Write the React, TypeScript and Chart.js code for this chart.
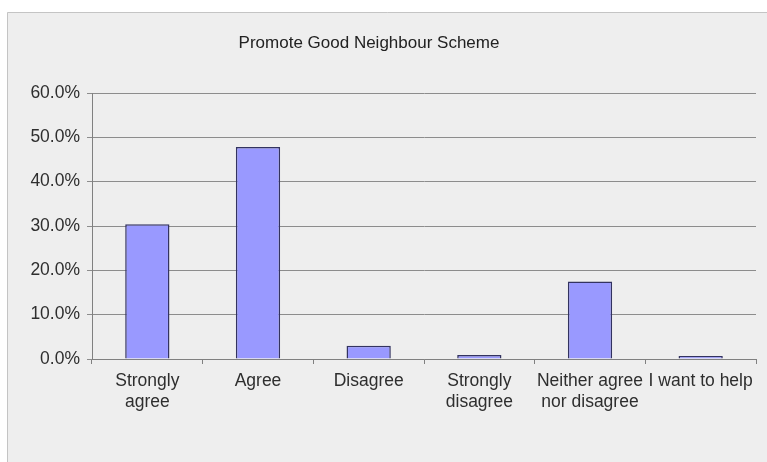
import React, { useEffect, useRef } from "react";
import { Chart, registerables } from "chart.js";

Chart.register(...registerables);

const categories: (string | string[])[] = [
  ["Strongly", "agree"],
  "Agree",
  "Disagree",
  ["Strongly", "disagree"],
  ["Neither agree", "nor disagree"],
  "I want to help",
];
const values: number[] = [30.4, 47.8, 3.0, 0.9, 17.5, 0.7];
const yTicks: number[] = [0, 10, 20, 30, 40, 50, 60];
const titleText = "Promote Good Neighbour Scheme";

const FONT = "Liberation Sans, Arial, sans-serif";

const panelPlugin = {
  id: "panelBg",
  beforeDraw(chart: any) {
    const ctx = chart.ctx;
    ctx.save();
    ctx.fillStyle = "#ffffff";
    ctx.fillRect(0, 0, chart.width, chart.height);
    ctx.fillStyle = "#eeeeee";
    ctx.fillRect(7, 12, chart.width - 7, chart.height - 12);
    ctx.strokeStyle = "#c4c4c4";
    ctx.lineWidth = 1;
    ctx.beginPath();
    ctx.moveTo(7.5, chart.height);
    ctx.lineTo(7.5, 12.5);
    ctx.lineTo(chart.width, 12.5);
    ctx.stroke();
    ctx.restore();
  },
  afterDraw(chart: any) {
    const ctx = chart.ctx;
    ctx.save();
    ctx.fillStyle = "#222222";
    ctx.font = `17px ${FONT}`;
    ctx.textAlign = "center";
    ctx.textBaseline = "middle";
    ctx.fillText(titleText, 369, 43);
    ctx.restore();
  },
};

export default function App() {
  const ref = useRef<HTMLCanvasElement | null>(null);
  useEffect(() => {
    document.body.style.margin = "0";
    if (!ref.current) return;
    const chart = new Chart(ref.current, {
      type: "bar",
      data: {
        labels: categories,
        datasets: [
          {
            data: values,
            backgroundColor: "#9999ff",
            borderColor: "#333360",
            borderWidth: 1.5,
            barPercentage: 0.4,
            categoryPercentage: 1,
          },
        ],
      },
      plugins: [panelPlugin],
      options: {
        animation: false,
        responsive: false,
        maintainAspectRatio: false,
        layout: { padding: { left: 7, top: 93, right: 11, bottom: 0 } },
        plugins: {
          legend: { display: false },
          tooltip: { enabled: false },
          title: { display: false },
        },
        scales: {
          x: {
            afterFit: (s: any) => {
              s.height = 103;
            },
            grid: {
              offset: true,
              drawOnChartArea: false,
              drawTicks: true,
              tickLength: 5,
              color: "#808080",
            },
            border: { display: true, color: "#808080", width: 1 },
            ticks: {
              color: "#2e2e2e",
              padding: 7,
              maxRotation: 0,
              autoSkip: false,
              font: { family: FONT, size: 17.5, lineHeight: 1.2 },
            },
          },
          y: {
            min: 0,
            max: 60,
            afterFit: (s: any) => {
              s.width = 85;
            },
            afterBuildTicks: (s: any) => {
              s.ticks = yTicks.map((v) => ({ value: v }));
            },
            grid: {
              color: "#8c8c8c",
              drawTicks: true,
              tickLength: 5,
              lineWidth: 1,
            },
            border: { display: true, color: "#808080", width: 1 },
            ticks: {
              color: "#2e2e2e",
              padding: 7,
              font: { family: FONT, size: 17.5 },
              callback: (v: any) => Number(v).toFixed(1) + "%",
            },
          },
        },
      },
    });
    return () => chart.destroy();
  }, []);
  return <canvas ref={ref} width={767} height={462} style={{ display: "block" }} />;
}
